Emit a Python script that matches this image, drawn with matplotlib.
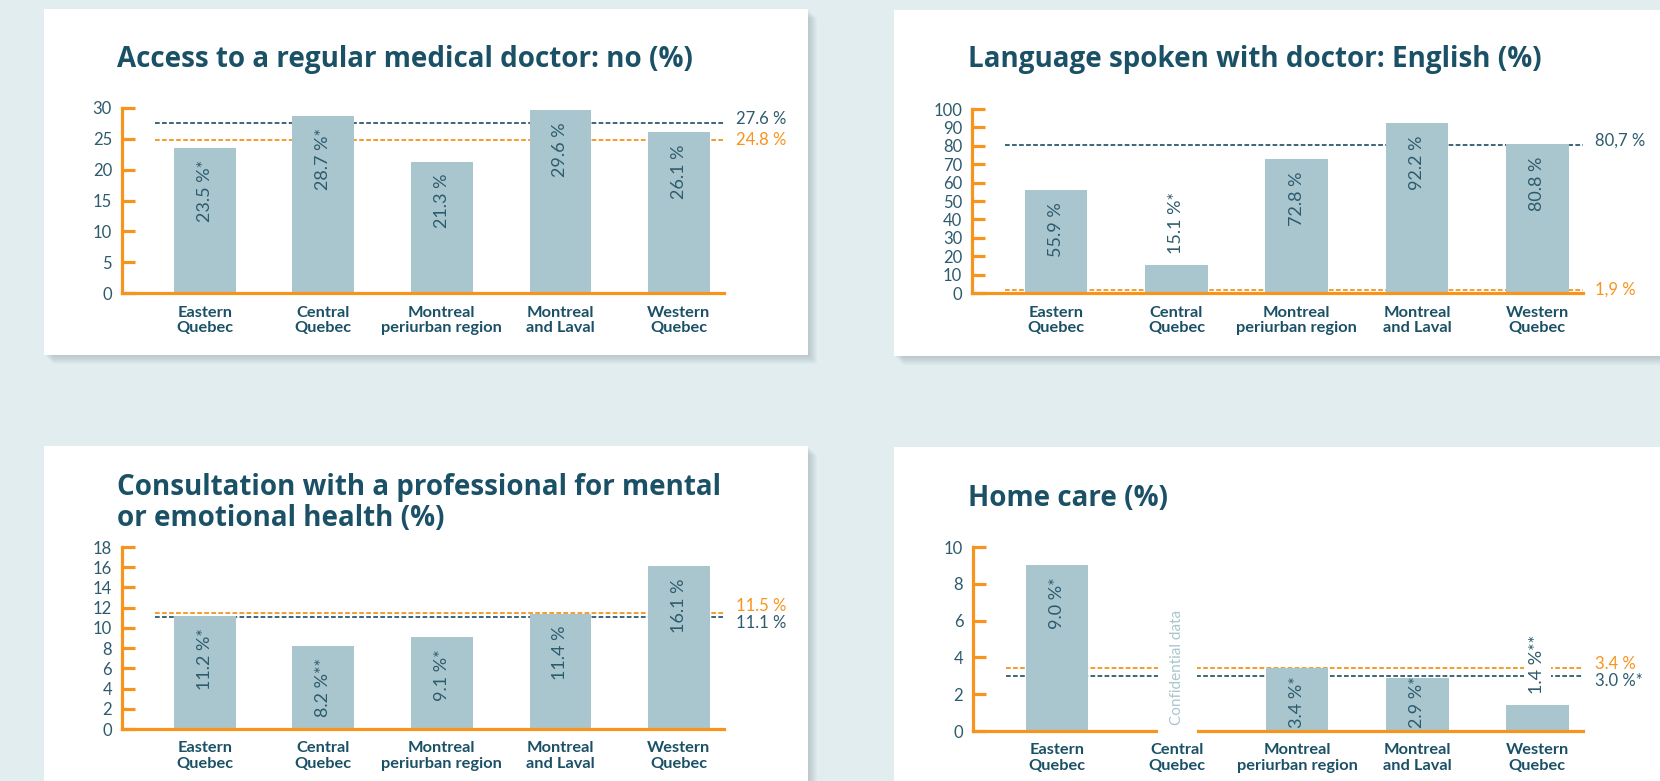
import matplotlib
matplotlib.use("Agg")
import matplotlib.pyplot as plt
import numpy as np
from matplotlib.patches import Rectangle

# ---- data -------------------------------------------------------------
regions = ["Eastern\nQuebec", "Central\nQuebec", "Montreal\nperiurban region",
           "Montreal\nand Laval", "Western\nQuebec"]

doctor_values = [23.5, 28.7, 21.3, 29.6, 26.1]
doctor_labels = ["23.5 %*", "28.7 %*", "21.3 %", "29.6 %", "26.1 %"]
doctor_refs = [27.6, 24.8]            # [dark line, orange line]
doctor_ref_labels = ["27.6 %", "24.8 %"]

english_values = [55.9, 15.1, 72.8, 92.2, 80.8]
english_labels = ["55.9 %", "15.1 %*", "72.8 %", "92.2 %", "80.8 %"]
english_refs = [80.7, 1.9]
english_ref_labels = ["80,7 %", "1,9 %"]

mental_values = [11.2, 8.2, 9.1, 11.4, 16.1]
mental_labels = ["11.2 %*", "8.2 %**", "9.1 %*", "11.4 %", "16.1 %"]
mental_refs = [11.1, 11.5]
mental_ref_labels = ["11.1 %", "11.5 %"]

homecare_values = [9.0, None, 3.4, 2.9, 1.4]
homecare_labels = ["9.0 %*", "Confidential data", "3.4 %*", "2.9 %*", "1.4 %**"]
homecare_refs = [3.0, 3.4]
homecare_ref_labels = ["3.0 %*", "3.4 %"]

# ---- style ------------------------------------------------------------
W, H = 1660, 781
BG = "#e2edf0"
BAR = "#a9c6ce"
TEAL = "#1b5167"
TEXT = "#2d5b6e"
ORANGE = "#f7941d"

plt.rcParams["font.family"] = ["Lato", "DejaVu Sans"]

fig = plt.figure(figsize=(W / 100, H / 100), dpi=100, facecolor=BG)


def card(l, t, r, b):
    # soft shadow, then the white card
    for k in range(1, 10):
        fig.patches.append(Rectangle(((l + k) / W, 1 - (b + k) / H), (r - l) / W, (b - t) / H,
                                     transform=fig.transFigure, facecolor="#6f8288",
                                     edgecolor="none", alpha=0.04, zorder=-2))
    fig.patches.append(Rectangle((l / W, 1 - b / H), (r - l) / W, (b - t) / H,
                                 transform=fig.transFigure, facecolor="white",
                                 edgecolor="none", zorder=-1))


card(44, 9, 808, 355)
card(894, 10, 1680, 356)
card(44, 446, 808, 800)
card(894, 447, 1680, 800)

renderer = fig.canvas.get_renderer()


def panel(box, title, title_pos, values, labels, refs, ref_labels, ymax, ystep):
    l, r, t, b = box
    ax = fig.add_axes([l / W, 1 - b / H, (r - l) / W, (b - t) / H])
    ax.set_facecolor("none")
    x = np.arange(len(regions))
    ax.set_xlim(-0.70, 4.38)
    ax.set_ylim(0, ymax)

    heights = [v if v is not None else 0 for v in values]
    ax.bar(x, heights, width=0.52, color=BAR, zorder=2)

    for s in ["top", "right"]:
        ax.spines[s].set_visible(False)
    for s in ["left", "bottom"]:
        ax.spines[s].set_color(ORANGE)
        ax.spines[s].set_linewidth(2.3)
        ax.spines[s].set_zorder(3)

    ax.set_yticks(np.arange(0, ymax + 0.1, ystep))
    ax.tick_params(axis="y", direction="in", length=9, width=2.3, color=ORANGE,
                   labelcolor=TEXT, labelsize=12, pad=7)
    ax.set_xticks(x, regions)
    ax.tick_params(axis="x", length=0, pad=9, labelcolor=TEAL, labelsize=11.8)
    for lab in ax.get_xticklabels():
        lab.set_fontweight("bold")
        lab.set_linespacing(1.1)

    # reference lines
    colors = [TEXT, ORANGE]
    x0 = -0.70 + 33 / ((r - l) / 5.08)
    for ref, c in zip(refs, colors):
        ax.plot([x0, 4.38], [ref, ref], color=c, lw=1.3, ls=(0, (2.6, 1.3)), zorder=1,
                clip_on=False)
    py = [ax.transData.transform((0, v))[1] for v in refs]
    offs = [4.0, 0.0]
    gap = abs(py[0] - py[1])
    if gap < 17:
        push = (17 - gap) / 2
        if py[0] >= py[1]:
            offs = [push, -push]
        else:
            offs = [-push, push]
    for ref, lab, c, dy in zip(refs, ref_labels, colors, offs):
        ax.annotate(lab, (1, ref), xycoords=("axes fraction", "data"),
                    xytext=(12, dy), textcoords="offset pixels", va="center", ha="left",
                    color=c, fontsize=12, annotation_clip=False)

    # value labels inside the bars (or above when the bar is too short)
    zero_px = ax.transData.transform((0, 0))[1]
    for i, (v, lab) in enumerate(zip(values, labels)):
        if v is None:
            ax.annotate(lab, (i, 0), xytext=(0, 6), textcoords="offset pixels",
                        rotation=90, ha="center", va="bottom", color=BAR, fontsize=11,
                        zorder=4, bbox=dict(facecolor="white", edgecolor="none", pad=9))
            continue
        kw = dict(rotation=90, ha="center", color=TEXT, fontsize=13, zorder=4,
                  textcoords="offset pixels")
        txt = ax.annotate(lab, (i, v), xytext=(0, -12), va="top", **kw)
        bb = txt.get_window_extent(renderer)
        if bb.y0 < zero_px + 3:
            txt.remove()
            bar_px = ax.transData.transform((0, v))[1] - zero_px
            if bar_px + 10 >= bb.height:
                ax.annotate(lab, (i, 0), xytext=(0, 3), va="bottom", **kw)
            else:
                ax.annotate(lab, (i, v), xytext=(0, 11), va="bottom",
                            bbox=dict(facecolor="white", edgecolor="none", pad=4), **kw)

    fig.text(title_pos[0] / W, 1 - title_pos[1] / H, title, ha="left", va="center",
             color=TEAL, fontsize=20, fontweight="bold", linespacing=1.1,
             family=["Open Sans", "DejaVu Sans"])
    return ax


panel((121.7, 724, 108, 293), "Access to a regular medical doctor: no (%)", (117, 60),
      doctor_values, doctor_labels, doctor_refs, doctor_ref_labels, 30, 5)
panel((972, 1583, 109, 293), "Language spoken with doctor: English (%)", (968, 60),
      english_values, english_labels, english_refs, english_ref_labels, 100, 10)
panel((121.7, 724, 547, 729), "Consultation with a professional for mental\nor emotional health (%)",
      (117, 503), mental_values, mental_labels, mental_refs, mental_ref_labels, 18, 2)
panel((973, 1583, 547, 731), "Home care (%)", (968, 498),
      homecare_values, homecare_labels, homecare_refs, homecare_ref_labels, 10, 2)

fig.savefig("out.png", dpi=100, facecolor=BG)
